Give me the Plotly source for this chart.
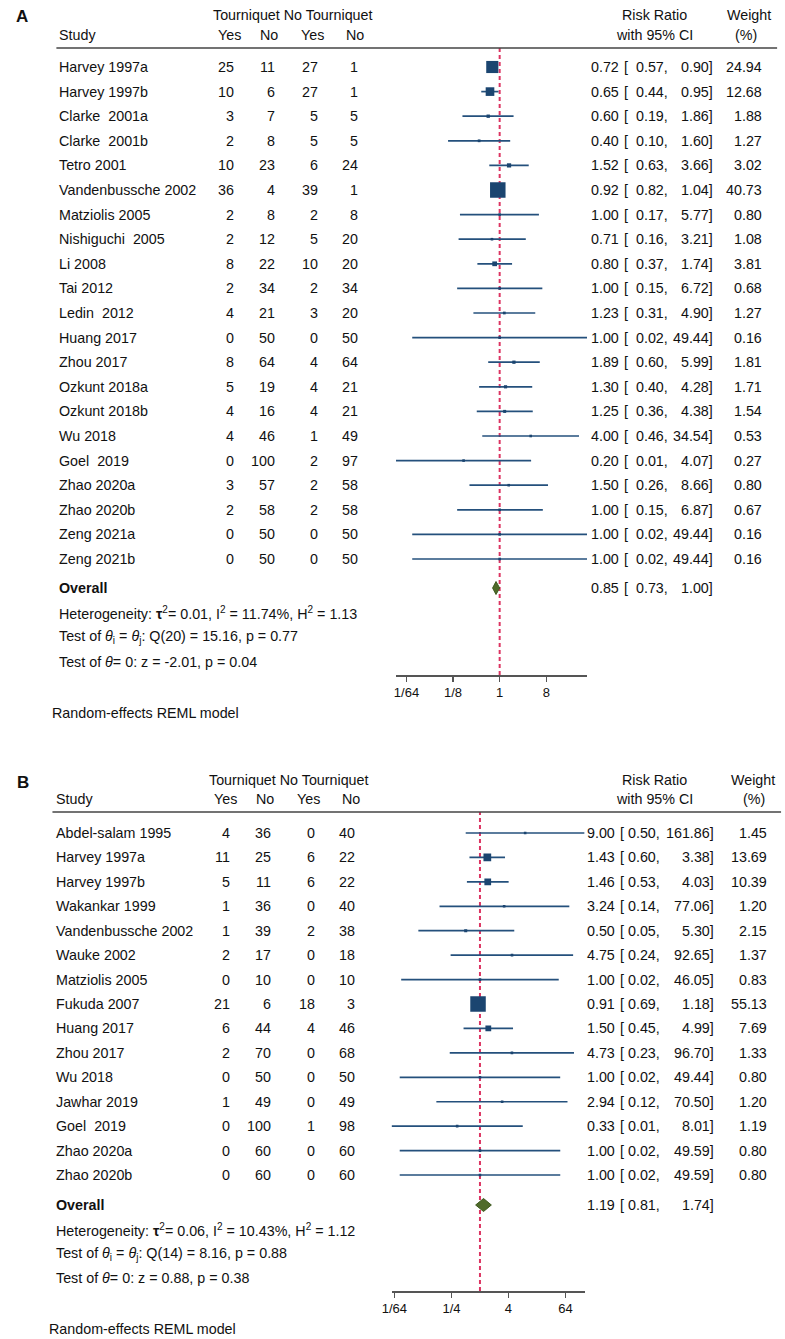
import math
import plotly.graph_objects as go

W, H = 785, 1339
FONT = "Liberation Sans, Arial, Helvetica, sans-serif"
TXT = "#111111"
FS = 14.3

# ---------------- Panel A data ----------------
a_study = ["Harvey 1997a", "Harvey 1997b", "Clarke\u00a0 2001a", "Clarke\u00a0 2001b", "Tetro 2001",
           "Vandenbussche 2002", "Matziolis 2005", "Nishiguchi\u00a0 2005", "Li 2008", "Tai 2012",
           "Ledin\u00a0 2012", "Huang 2017", "Zhou 2017", "Ozkunt 2018a", "Ozkunt 2018b", "Wu 2018",
           "Goel\u00a0 2019", "Zhao 2020a", "Zhao 2020b", "Zeng 2021a", "Zeng 2021b"]
a_t_yes = [25, 10, 3, 2, 10, 36, 2, 2, 8, 2, 4, 0, 8, 5, 4, 4, 0, 3, 2, 0, 0]
a_t_no = [11, 6, 7, 8, 23, 4, 8, 12, 22, 34, 21, 50, 64, 19, 16, 46, 100, 57, 58, 50, 50]
a_c_yes = [27, 27, 5, 5, 6, 39, 2, 5, 10, 2, 3, 0, 4, 4, 4, 1, 2, 2, 2, 0, 0]
a_c_no = [1, 1, 5, 5, 24, 1, 8, 20, 20, 34, 20, 50, 64, 21, 21, 49, 97, 58, 58, 50, 50]
a_rr = [0.72, 0.65, 0.60, 0.40, 1.52, 0.92, 1.00, 0.71, 0.80, 1.00, 1.23, 1.00, 1.89, 1.30,
        1.25, 4.00, 0.20, 1.50, 1.00, 1.00, 1.00]
a_lo = [0.57, 0.44, 0.19, 0.10, 0.63, 0.82, 0.17, 0.16, 0.37, 0.15, 0.31, 0.0202, 0.60, 0.40,
        0.36, 0.46, 0.0098, 0.26, 0.15, 0.0202, 0.0202]
a_hi = [0.90, 0.95, 1.86, 1.60, 3.66, 1.04, 5.77, 3.21, 1.74, 6.72, 4.90, 49.44, 5.99, 4.28,
        4.38, 34.54, 4.07, 8.66, 6.87, 49.44, 49.44]
a_wt = [24.94, 12.68, 1.88, 1.27, 3.02, 40.73, 0.80, 1.08, 3.81, 0.68, 1.27, 0.16, 1.81, 1.71,
        1.54, 0.53, 0.27, 0.80, 0.67, 0.16, 0.16]
a_overall = [0.85, 0.73, 1.00]
a_stats = ["Heterogeneity: <b>\u03c4</b><sup>2</sup>= 0.01, I<sup>2</sup> = 11.74%, H<sup>2</sup> = 1.13",
           "Test of <i>\u03b8</i><sub>i</sub> = <i>\u03b8</i><sub>j</sub>: Q(20) = 15.16, p = 0.77",
           "Test of <i>\u03b8</i>= 0: z = -2.01, p = 0.04"]
a_tickvals = [1 / 64, 1 / 8, 1, 8]
a_ticktext = ["1/64", "1/8", "1", "8"]

# ---------------- Panel B data ----------------
b_study = ["Abdel-salam 1995", "Harvey 1997a", "Harvey 1997b", "Wakankar 1999", "Vandenbussche 2002",
           "Wauke 2002", "Matziolis 2005", "Fukuda 2007", "Huang 2017", "Zhou 2017", "Wu 2018",
           "Jawhar 2019", "Goel\u00a0 2019", "Zhao 2020a", "Zhao 2020b"]
b_t_yes = [4, 11, 5, 1, 1, 2, 0, 21, 6, 2, 0, 1, 0, 0, 0]
b_t_no = [36, 25, 11, 36, 39, 17, 10, 6, 44, 70, 50, 49, 100, 60, 60]
b_c_yes = [0, 6, 6, 0, 2, 0, 0, 18, 4, 0, 0, 0, 1, 0, 0]
b_c_no = [40, 22, 22, 40, 38, 18, 10, 3, 46, 68, 50, 49, 98, 60, 60]
b_rr = [9.00, 1.43, 1.46, 3.24, 0.50, 4.75, 1.00, 0.91, 1.50, 4.73, 1.00, 2.94, 0.33, 1.00, 1.00]
b_lo = [0.50, 0.60, 0.53, 0.14, 0.05, 0.24, 0.0217, 0.69, 0.45, 0.23, 0.0202, 0.12, 0.0136,
        0.0202, 0.0202]
b_hi = [161.86, 3.38, 4.03, 77.06, 5.30, 92.65, 46.05, 1.18, 4.99, 96.70, 49.44, 70.50, 8.01,
        49.59, 49.59]
b_wt = [1.45, 13.69, 10.39, 1.20, 2.15, 1.37, 0.83, 55.13, 7.69, 1.33, 0.80, 1.20, 1.19, 0.80, 0.80]
b_overall = [1.19, 0.81, 1.74]
b_stats = ["Heterogeneity: <b>\u03c4</b><sup>2</sup>= 0.06, I<sup>2</sup> = 10.43%, H<sup>2</sup> = 1.12",
           "Test of <i>\u03b8</i><sub>i</sub> = <i>\u03b8</i><sub>j</sub>: Q(14) = 8.16, p = 0.88",
           "Test of <i>\u03b8</i>= 0: z = 0.88, p = 0.38"]
b_tickvals = [1 / 64, 1 / 4, 4, 64]
b_ticktext = ["1/64", "1/4", "4", "64"]

# ---------------- layout geometry (pixels) ----------------
GEO_A = dict(label="A", top=48, row0=67, step=24.6, axis=675, overall=588, stats=[613, 637, 662],
             model=713, head1=15, head2=34.5, label_y=16, label_x=12.5, name_x=49, model_x=42,
             count_r=[228, 269, 313, 354], count_head=[222, 262, 306, 349], group_head=286.5,
             rr_r=617.5, br_l=621, lo_r=667, hi_r=713.5, wt_r=763, rr_head=653, ci_head=652.5,
             wt_head=749, pct_head=746, line_x=[47, 777], ax_x=[391, 584.5])
GEO_B = dict(label="B", top=812, row0=833, step=24.43, axis=1291, overall=1205, stats=[1230, 1254, 1278],
             model=1329, head1=780, head2=799, label_y=782, label_x=13, name_x=46, model_x=38,
             count_r=[224, 265.5, 309.5, 350], count_head=[218, 258, 302, 345], group_head=282.5,
             rr_r=613.5, br_l=617, lo_r=659, hi_r=714, wt_r=767.5, rr_head=653, ci_head=652.5,
             wt_head=752.5, pct_head=754, line_x=[43, 781], ax_x=[386.5, 582])

LINE_C = "#24507c"
MARK_C = "#1b4570"
DIAM_C = "#4f6b2a"
RED = "#dc3462"

fig = go.Figure()
annotations = []
shapes = []


def px_x(p):
    return p / W


def px_y(p):
    return 1 - p / H


def ann(text, x, y, yref, anchor, size=FS, bold=False, color=TXT):
    if bold:
        text = "<b>" + text + "</b>"
    annotations.append(dict(text=text, x=px_x(x), xref="paper", y=y, yref=yref, xanchor=anchor,
                            yanchor="middle", showarrow=False, borderpad=0,
                            font=dict(family=FONT, size=size, color=color)))


def panel(idx, g, study, t_yes, t_no, c_yes, c_no, rr, lo, hi, wt, overall, stats, tickvals, ticktext):
    xa = "x" if idx == 1 else "x%d" % idx
    ya = "y" if idx == 1 else "y%d" % idx
    xkey = "xaxis" if idx == 1 else "xaxis%d" % idx
    ykey = "yaxis" if idx == 1 else "yaxis%d" % idx
    n = len(study)
    rows = list(range(n))
    to_row = lambda p: (p - g["row0"]) / g["step"]

    # CI lines
    xs, ys = [], []
    for i in rows:
        xs += [lo[i], hi[i], None]
        ys += [i, i, None]
    fig.add_trace(go.Scatter(x=xs, y=ys, mode="lines", line=dict(color=LINE_C, width=1.7),
                             xaxis=xa, yaxis=ya, hoverinfo="skip", showlegend=False))
    # weighted squares
    wmax = max(wt)
    sizes = [max(15.5 * math.sqrt(w / wmax), 2.6) for w in wt]
    fig.add_trace(go.Scatter(x=rr, y=rows, mode="markers",
                             marker=dict(symbol="square", size=sizes, color=MARK_C, opacity=1,
                                         line=dict(width=0)),
                             xaxis=xa, yaxis=ya, showlegend=False))
    # overall diamond
    yo = to_row(g["overall"])
    hh = 6.5 / g["step"]
    est, olo, ohi = overall
    fig.add_trace(go.Scatter(x=[olo, est, ohi, est, olo], y=[yo, yo - hh, yo, yo + hh, yo],
                             mode="lines", fill="toself", fillcolor=DIAM_C,
                             line=dict(color="#3f5a1f", width=1), xaxis=xa, yaxis=ya,
                             showlegend=False, hoverinfo="skip"))

    lo_all, hi_all = min(lo), max(hi)
    fig.update_layout(**{
        xkey: dict(type="log", range=[math.log10(lo_all), math.log10(hi_all)],
                   domain=[px_x(g["ax_x"][0]), px_x(g["ax_x"][1])], anchor=ya,
                   showline=True, linecolor="#555555", linewidth=1.5, ticks="outside",
                   ticklen=5, tickwidth=1.2, tickcolor="#555555", tickvals=tickvals,
                   ticktext=ticktext, showgrid=False, zeroline=False,
                   tickfont=dict(family=FONT, size=13, color=TXT)),
        ykey: dict(range=[to_row(g["axis"]), to_row(g["top"])],
                   domain=[px_y(g["axis"]), px_y(g["top"])], anchor=xa, visible=False,
                   showgrid=False, zeroline=False),
    })

    # null line (behind the markers)
    shapes.append(dict(type="line", xref=xa, x0=1, x1=1, yref=ya + " domain", y0=0, y1=1,
                       layer="below", line=dict(color=RED, width=2, dash="4px,3px")))
    # header rule
    shapes.append(dict(type="line", xref="paper", yref="paper", x0=px_x(g["line_x"][0]),
                       x1=px_x(g["line_x"][1]), y0=px_y(g["top"]), y1=px_y(g["top"]),
                       line=dict(color="#444444", width=1.6)))

    # headers
    ann(g["label"], g["label_x"], px_y(g["label_y"]), "paper", "center", size=17, bold=True)
    ann("Tourniquet No Tourniquet", g["group_head"], px_y(g["head1"]), "paper", "center")
    ann("Study", g["name_x"], px_y(g["head2"]), "paper", "left")
    for xh, lab in zip(g["count_head"], ["Yes", "No", "Yes", "No"]):
        ann(lab, xh, px_y(g["head2"]), "paper", "center")
    ann("Risk Ratio", g["rr_head"], px_y(g["head1"]), "paper", "center")
    ann("with 95% CI", g["ci_head"], px_y(g["head2"]), "paper", "center")
    ann("Weight", g["wt_head"], px_y(g["head1"]), "paper", "center")
    ann("(%)", g["pct_head"], px_y(g["head2"]), "paper", "center")

    # study rows
    for i in rows:
        ann(study[i], g["name_x"], i, ya, "left")
        for xr, v in zip(g["count_r"], [t_yes[i], t_no[i], c_yes[i], c_no[i]]):
            ann(str(v), xr, i, ya, "right")
        ann("%.2f" % rr[i], g["rr_r"], i, ya, "right")
        ann("[", g["br_l"], i, ya, "left")
        ann("%.2f," % lo[i], g["lo_r"], i, ya, "right")
        ann("%.2f]" % hi[i], g["hi_r"], i, ya, "right")
        ann("%.2f" % wt[i], g["wt_r"], i, ya, "right")

    # overall row
    ann("Overall", g["name_x"], yo, ya, "left", bold=True)
    ann("%.2f" % est, g["rr_r"], yo, ya, "right")
    ann("[", g["br_l"], yo, ya, "left")
    ann("%.2f," % olo, g["lo_r"], yo, ya, "right")
    ann("%.2f]" % ohi, g["hi_r"], yo, ya, "right")

    for s, p in zip(stats, g["stats"]):
        ann(s, g["name_x"], px_y(p), "paper", "left")
    ann("Random-effects REML model", g["model_x"], px_y(g["model"]), "paper", "left")


panel(1, GEO_A, a_study, a_t_yes, a_t_no, a_c_yes, a_c_no, a_rr, a_lo, a_hi, a_wt, a_overall,
      a_stats, a_tickvals, a_ticktext)
panel(2, GEO_B, b_study, b_t_yes, b_t_no, b_c_yes, b_c_no, b_rr, b_lo, b_hi, b_wt, b_overall,
      b_stats, b_tickvals, b_ticktext)

fig.update_layout(width=W, height=H, margin=dict(l=0, r=0, t=0, b=0),
                  paper_bgcolor="white", plot_bgcolor="rgba(0,0,0,0)", showlegend=False,
                  hovermode=False, annotations=annotations, shapes=shapes,
                  font=dict(family=FONT, size=FS, color=TXT))

fig.write_html("out.html", config={"displayModeBar": False, "staticPlot": True},
               post_script="document.body.style.margin='0px';document.body.style.overflow='hidden';")
